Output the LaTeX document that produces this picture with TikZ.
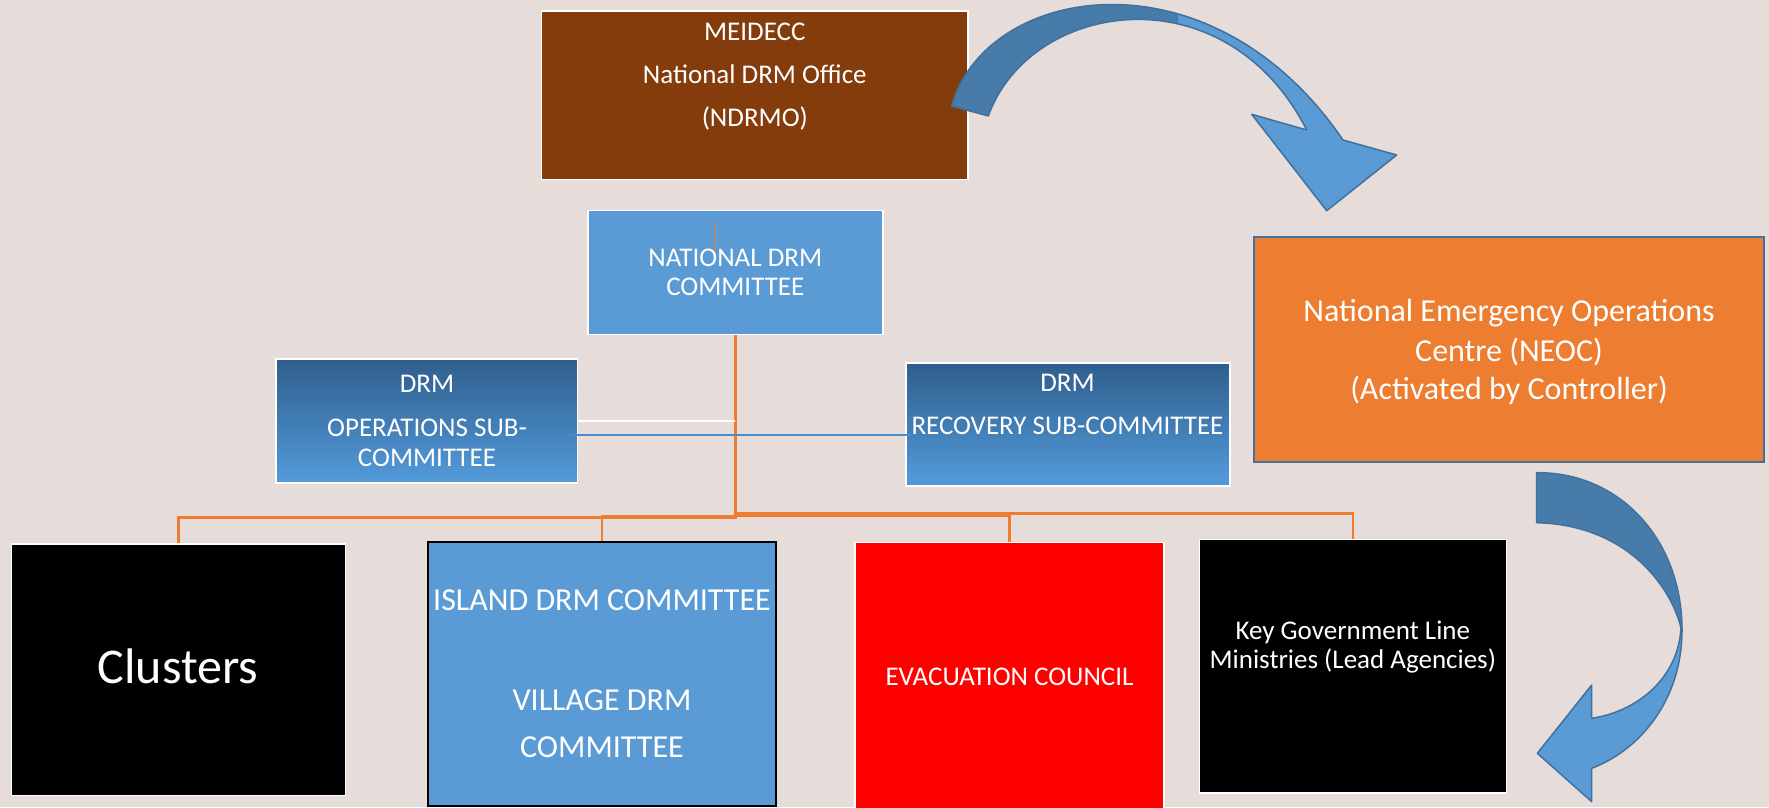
\documentclass[tikz,border=0pt]{standalone}
\usepackage{fontspec}
\setmainfont{Carlito}
\definecolor{bgc}{HTML}{E6DDDA}
\definecolor{brownbox}{HTML}{843C0C}
\definecolor{bluebox}{HTML}{5B9BD5}
\definecolor{gradtop}{HTML}{2F5E8C}
\definecolor{gradbot}{HTML}{539BDB}
\definecolor{orangebox}{HTML}{ED7D31}
\definecolor{orangeline}{HTML}{ED7D31}
\definecolor{arrowdark}{HTML}{477BAA}
\definecolor{arrowline}{HTML}{41719C}
\definecolor{redbox}{HTML}{FF0000}
\definecolor{thinblue}{HTML}{4A8CCB}
\def\pathArrowOne{(951.7,106) .. controls (985,-15) and (1210,-55) .. (1343,140) -- (1396.7,155) -- (1326.7,210.7) -- (1251.7,114.3) -- (1306.7,130) .. controls (1225,-30) and (1030,0) .. (988.3,116) -- cycle}
\def\pathArrowTwo{(1536.7,472.7) .. controls (1620,472) and (1682,540) .. (1682,630) .. controls (1682,700) and (1640,750) .. (1591.7,768.3) -- (1591.7,801.7) -- (1537.3,753.3) -- (1591.7,685) -- (1591.7,718.3) .. controls (1635,712) and (1678,680) .. (1681,628) .. controls (1672,590) and (1630,525) .. (1536.7,522.7) -- cycle}
\begin{document}
\begin{tikzpicture}[x=1pt,y=-1pt,
  box/.style={rectangle, draw=white, line width=1.5pt, inner sep=0pt},
  conn/.style={draw=orangeline, line width=2.5pt},
  txt/.style={text=white, inner sep=0pt, anchor=base},
  fa/.style={font=\fontsize{27}{32}\selectfont},
  fb/.style={font=\fontsize{32}{38}\selectfont},
  fc/.style={font=\fontsize{50}{60}\selectfont},
  arrowedge/.style={draw=arrowline, line width=1.5pt, line join=round}]
\useasboundingbox (0,0) rectangle (1769,807);
\fill[bgc] (0,0) rectangle (1769,807);

% boxes
\node[box, fill=brownbox, minimum width=426.5pt, minimum height=168.4pt] (meidecc) at (754.8,95.2) {};
\node[box, fill=bluebox, minimum width=295pt, minimum height=124pt] (ndc) at (735.3,272.5) {};
\node[box, top color=gradtop, bottom color=gradbot, minimum width=301.5pt, minimum height=124pt] (ops) at (426.8,421) {};
\node[box, top color=gradtop, bottom color=gradbot, minimum width=324pt, minimum height=123pt] (rec) at (1068,424.5) {};
\node[rectangle, draw=arrowline, line width=2pt, fill=orangebox, inner sep=0pt, minimum width=510pt, minimum height=225pt] (neoc) at (1509,349.5) {};
\node[box, fill=black, minimum width=334.2pt, minimum height=251.7pt] (clusters) at (178.4,669.7) {};
\node[rectangle, draw=black, line width=2pt, fill=bluebox, inner sep=0pt, minimum width=348.5pt, minimum height=263.6pt] (island) at (602,673.8) {};
\node[box, fill=redbox, minimum width=309pt, minimum height=268pt] (evac) at (1009.5,676.5) {};
\node[box, fill=black, minimum width=307pt, minimum height=253.7pt] (keygov) at (1352.8,666.2) {};

% connectors
\draw[conn] (ndc.south) -- ++(0,182) -| (clusters.north);
\draw[conn] (ndc.south) -- ++(0,181) -| (island.north);
\draw[conn] (ndc.south) -- ++(0,180.5) -| (evac.north);
\draw[conn] (ndc.south) -- ++(0,178) -| (keygov.north);
\draw[draw=white, line width=2pt] (ops.east) -- (ops.east -| ndc.south);
\coordinate (bl1) at (566.7,434.5);
\coordinate (bl2) at (911.7,434.5);
\draw[draw=thinblue, line width=2pt] (bl1) -- (bl2);
\coordinate (ol1) at (715.3,220.7);
\coordinate (ol2) at (715.3,251.7);
\draw[draw=orangeline, line width=1.2pt] (ol1) -- (ol2);

% curved arrows
\fill[bluebox] \pathArrowOne;
\begin{scope}
\clip (900,-20) rectangle (1178,260);
\fill[arrowdark] \pathArrowOne;
\end{scope}
\draw[arrowedge] \pathArrowOne;
\fill[bluebox] \pathArrowTwo;
\begin{scope}
\clip (1500,440) rectangle (1720,628);
\fill[arrowdark] \pathArrowTwo;
\end{scope}
\draw[arrowedge] \pathArrowTwo;

% texts
\node[txt, fa] (t1) at (754.8,40) {MEIDECC};
\node[txt, fa] (t2) at (754.8,83.3) {National DRM Office};
\node[txt, fa] (t3) at (754.8,126.7) {(NDRMO)};
\node[txt, fa] (t4) at (735.3,266.7) {NATIONAL DRM};
\node[txt, fa] (t5) at (735.3,295) {COMMITTEE};
\node[txt, fa] (t6) at (427,392.7) {DRM};
\node[txt, fa] (t7) at (427,436.7) {OPERATIONS SUB-};
\node[txt, fa] (t8) at (427,466) {COMMITTEE};
\node[txt, fa] (t9) at (1067.5,391.7) {DRM};
\node[txt, fa] (t10) at (1067.5,434) {RECOVERY SUB-COMMITTEE};
\node[txt, fb] (t11) at (1509,321.7) {National Emergency Operations};
\node[txt, fb] (t12) at (1509,361) {Centre (NEOC)};
\node[txt, fb] (t13) at (1509,399) {(Activated by Controller)};
\node[txt, fc] (t14) at (178,683.3) {Clusters};
\node[txt, fb] (t15) at (602,610) {ISLAND DRM COMMITTEE};
\node[txt, fb] (t16) at (602,710) {VILLAGE DRM};
\node[txt, fb] (t17) at (602,757.3) {COMMITTEE};
\node[txt, fa] (t18) at (1009.5,685.7) {EVACUATION COUNCIL};
\node[txt, fa] (t19) at (1352.8,639.3) {Key Government Line};
\node[txt, fa] (t20) at (1352.8,668.3) {Ministries (Lead Agencies)};
\end{tikzpicture}
\end{document}
